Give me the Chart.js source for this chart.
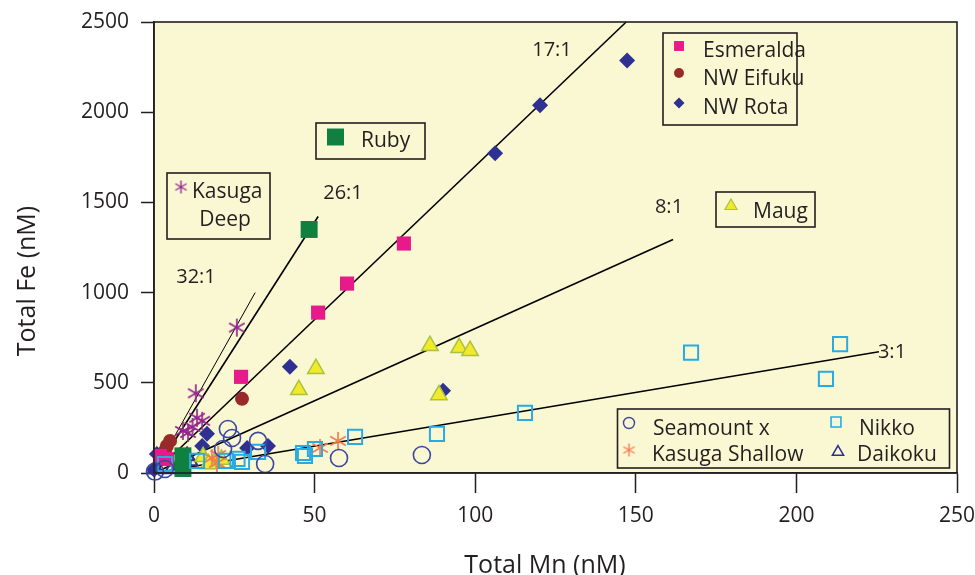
<!DOCTYPE html>
<html><head><meta charset="utf-8">
<script src="https://cdn.jsdelivr.net/npm/chart.js@4/dist/chart.umd.min.js"></script>
<style>html,body{margin:0;padding:0;background:#fff;}</style>
</head><body>
<canvas id="c" width="975" height="575"></canvas>
<script>
// ---------- DATA ----------
const xTicks = [0, 50, 100, 150, 200, 250];
const yTicks = [0, 500, 1000, 1500, 2000, 2500];

const esmeraldaMn = [77.8, 60.1, 51.1, 27.1, 1.9, 4.0];
const esmeraldaFe = [1272, 1050, 889, 533, 94, 78];

const nwEifukuMn = [27.4, 5.0, 4.0, 3.4];
const nwEifukuFe = [411, 178, 150, 122];

const nwRotaMn = [147.3, 120.2, 106.2, 42.3, 90.0, 16.5, 15.0, 29.0, 35.5, 0.9, 0.0];
const nwRotaFe = [2286, 2039, 1772, 589, 456, 217, 150, 139, 150, 106, 20];

const rubyMn = [48.3, 9.0, 9.0];
const rubyFe = [1350, 95, 25];

const kasugaDeepMn = [25.8, 13.0, 13.4, 15.0, 9.0, 10.6, 12.0];
const kasugaDeepFe = [806, 442, 306, 289, 233, 222, 255];

const maugMn = [85.9, 95.0, 98.4, 88.7, 50.4, 45.1, 15.3, 19.0, 21.0, 17.0];
const maugFe = [706, 694, 678, 433, 578, 461, 90, 62, 75, 50];

const seamountMn = [83.4, 57.6, 34.6, 32.4, 23.0, 24.3, 21.5, 3.4, 0.3];
const seamountFe = [100, 83, 50, 178, 244, 194, 133, 22, 8];

const kasugaShallowMn = [57.3, 51.7, 20.0, 18.0, 19.6];
const kasugaShallowFe = [178, 139, 100, 83, 56];

const nikkoMn = [213.6, 209.2, 167.2, 115.5, 88.1, 62.6, 50.1, 46.4, 47.0, 32.4, 27.4, 22.4, 13.4, 26.0, 3.4];
const nikkoFe = [714, 522, 667, 333, 217, 200, 133, 111, 94, 117, 62, 67, 67, 78, 50];

const daikokuMn = [0.3, 10.3, 11.2, 8.0, 5.6];
const daikokuFe = [22, 94, 67, 50, 22];

const ratioLabels = ['32:1', '26:1', '17:1', '8:1', '3:1'];
const ratioEndMn = [31.5, 51.1, 147.0, 161.6, 225.7];
const ratioEndFe = [1000, 1422, 2500, 1294, 672];

// ---------- HELPERS ----------
const INK = '#231F20';
const BG = '#FAF8D2';
const FONT = "'Open Sans', 'Noto Sans', sans-serif";
function pts(xs, ys) { return xs.map((x, i) => ({x: x, y: ys[i]})); }
function asterisk(color, size, lw) {
  const c = document.createElement('canvas');
  c.width = size; c.height = size;
  const g = c.getContext('2d');
  g.strokeStyle = color; g.lineWidth = lw; g.lineCap = 'butt';
  const r = size / 2 - 1, cx = size / 2, cy = size / 2;
  [90, 30, 150].forEach(a => {
    const t = a * Math.PI / 180;
    g.beginPath();
    g.moveTo(cx - r * Math.cos(t), cy - r * Math.sin(t));
    g.lineTo(cx + r * Math.cos(t), cy + r * Math.sin(t));
    g.stroke();
  });
  return c;
}
const C = {
  esm: '#E8198B', eif: '#982A2C', rota: '#2E3192', ruby: '#0F8040',
  kdeep: '#93278F', maug: '#F2E92A', maugEdge: '#A9C23F',
  sea: '#3A46A0', kshal: '#F47B50', nikko: '#29ABE2', dai: '#2E3192'
};
const kDeepImg = asterisk(C.kdeep, 20, 1.7);
const kShalImg = asterisk(C.kshal, 20, 1.7);
const kDeepLeg = asterisk(C.kdeep, 15, 1.4);
const kShalLeg = asterisk(C.kshal, 15, 1.4);

const pointSets = [
  {label: 'Seamount x', data: pts(seamountMn, seamountFe), pointStyle: 'circle', pointRadius: 8.5, backgroundColor: 'rgba(0,0,0,0)', borderColor: C.sea, pointBorderWidth: 1.6},
  {label: 'Nikko', data: pts(nikkoMn, nikkoFe), pointStyle: 'rect', pointRadius: 10, backgroundColor: 'rgba(0,0,0,0)', borderColor: C.nikko, pointBorderWidth: 2},
  {label: 'Kasuga Shallow', data: pts(kasugaShallowMn, kasugaShallowFe), pointStyle: kShalImg, pointRadius: 10},
  {label: 'Maug', data: pts(maugMn, maugFe), pointStyle: 'triangle', pointRadius: 9.5, backgroundColor: C.maug, borderColor: C.maugEdge, pointBorderWidth: 1.5},
  {label: 'Kasuga Deep', data: pts(kasugaDeepMn, kasugaDeepFe), pointStyle: kDeepImg, pointRadius: 10},
  {label: 'Ruby', data: pts(rubyMn, rubyFe), pointStyle: 'rect', pointRadius: 12, backgroundColor: C.ruby, borderColor: C.ruby, pointBorderWidth: 0},
  {label: 'Esmeralda', data: pts(esmeraldaMn, esmeraldaFe), pointStyle: 'rect', pointRadius: 10, backgroundColor: C.esm, borderColor: C.esm, pointBorderWidth: 0},
  {label: 'NW Eifuku', data: pts(nwEifukuMn, nwEifukuFe), pointStyle: 'circle', pointRadius: 7, backgroundColor: C.eif, borderColor: C.eif, pointBorderWidth: 0},
  {label: 'NW Rota', data: pts(nwRotaMn, nwRotaFe), pointStyle: 'rectRot', pointRadius: 8, backgroundColor: C.rota, borderColor: C.rota, pointBorderWidth: 0},
  {label: 'Daikoku', data: pts(daikokuMn, daikokuFe), pointStyle: 'triangle', pointRadius: 8.5, backgroundColor: 'rgba(0,0,0,0)', borderColor: C.dai, pointBorderWidth: 2}
].map(d => Object.assign({clip: false, order: 1, pointHoverRadius: d.pointRadius}, d));

const lineSets = ratioLabels.map((lab, i) => ({
  label: lab, data: [{x: 0, y: 0}, {x: ratioEndMn[i], y: ratioEndFe[i]}],
  showLine: true, borderColor: '#000', borderWidth: i === 0 ? 1 : 1.6,
  pointRadius: 0, order: 5, clip: false
}));

// ---------- DECORATION PLUGIN ----------
const deco = {
  id: 'deco',
  beforeDraw(chart) {
    const {ctx, chartArea: a} = chart;
    ctx.save();
    ctx.fillStyle = BG;
    ctx.fillRect(a.left, a.top, a.right - a.left, a.bottom - a.top);
    ctx.restore();
  },
  afterDraw(chart) {
    const {ctx, chartArea: a} = chart;
    const dp = Chart.helpers.drawPoint;
    ctx.save();
    // frame
    ctx.strokeStyle = INK; ctx.lineWidth = 1.6;
    ctx.strokeRect(a.left, a.top, a.right - a.left, a.bottom - a.top);

    function box(x, y, w, h) {
      ctx.strokeStyle = INK; ctx.lineWidth = 1.6; ctx.strokeRect(x, y, w, h);
    }
    function text(t, x, y, size, align) {
      ctx.fillStyle = INK; ctx.font = size + 'px ' + FONT;
      ctx.textAlign = align || 'left'; ctx.textBaseline = 'middle';
      ctx.fillText(t, x, y);
    }
    function mark(style, r, fill, stroke, bw, x, y) {
      ctx.fillStyle = fill; ctx.strokeStyle = stroke; ctx.lineWidth = bw;
      dp(ctx, {pointStyle: style, radius: r, rotation: 0, borderWidth: bw}, x, y);
    }
    // ratio labels
    const rl = [[196, 277], [343, 193], [552, 50], [669, 207], [892, 352]];
    ratioLabels.forEach((t, i) => text(t, rl[i][0], rl[i][1], 20, 'center'));

    // Esmeralda / NW Eifuku / NW Rota
    box(663, 33, 134, 92);
    mark('rect', 7, C.esm, C.esm, 0, 679, 46);
    text('Esmeralda', 703, 51, 21);
    mark('circle', 5, C.eif, C.eif, 0, 679, 73);
    text('NW Eifuku', 703, 79, 21);
    mark('rectRot', 5.5, C.rota, C.rota, 0, 679, 103);
    text('NW Rota', 703, 108, 21);

    // Ruby
    box(316, 123, 109, 36);
    mark('rect', 12, C.ruby, C.ruby, 0, 335.5, 137);
    text('Ruby', 361, 141, 21);

    // Kasuga Deep
    box(167, 173, 103, 66);
    ctx.drawImage(kDeepLeg, 181 - 7.5, 187 - 7.5);
    text('Kasuga', 192, 192, 21);
    text('Deep', 225, 220, 21, 'center');

    // Maug
    box(716, 192, 99, 35);
    mark('triangle', 7, C.maug, C.maugEdge, 1.2, 731, 206);
    text('Maug', 753, 212, 21);

    // bottom legend
    box(617.5, 409, 332, 59);
    mark('circle', 5.5, 'rgba(0,0,0,0)', C.sea, 1.4, 629, 423);
    text('Seamount x', 653, 429, 21);
    ctx.drawImage(kShalLeg, 629 - 7.5, 450 - 7.5);
    text('Kasuga Shallow', 652, 455, 21);
    mark('rect', 7, 'rgba(0,0,0,0)', C.nikko, 1.6, 836, 422);
    text('Nikko', 859, 429, 21);
    mark('triangle', 6.5, 'rgba(0,0,0,0)', C.dai, 1.5, 838, 452);
    text('Daikoku', 857, 455, 21);

    // axis titles
    ctx.fillStyle = INK; ctx.font = '25px ' + FONT;
    ctx.textAlign = 'center'; ctx.textBaseline = 'alphabetic';
    ctx.fillText('Total Mn (nM)', 545, 573);
    ctx.translate(35, 281); ctx.rotate(-Math.PI / 2);
    ctx.fillText('Total Fe (nM)', 0, 0);
    ctx.restore();
  }
};

Chart.defaults.font.family = FONT;
Chart.defaults.color = INK;

new Chart(document.getElementById('c'), {
  type: 'scatter',
  data: {datasets: lineSets.concat(pointSets)},
  options: {
    responsive: false, animation: false, devicePixelRatio: 1,
    layout: {padding: {top: 22, right: 18, left: 0, bottom: 0}},
    plugins: {legend: {display: false}, tooltip: {enabled: false}},
    scales: {
      x: {
        type: 'linear', min: 0, max: 250,
        afterBuildTicks: s => { s.ticks = xTicks.map(v => ({value: v})); },
        afterFit: s => { s.height = 102; s.paddingLeft = 0; s.paddingRight = 0; },
        grid: {drawOnChartArea: false, drawTicks: true, tickLength: 20, tickColor: INK, tickWidth: 1.5},
        border: {display: true, color: INK, width: 1.6},
        ticks: {font: {size: 21}, color: INK, padding: 10, maxRotation: 0, callback: v => String(v)}
      },
      y: {
        type: 'linear', min: 0, max: 2500,
        afterBuildTicks: s => { s.ticks = yTicks.map(v => ({value: v})); },
        afterFit: s => { s.width = 154; s.paddingTop = 0; s.paddingBottom = 0; },
        grid: {drawOnChartArea: false, drawTicks: true, tickLength: 13, tickColor: INK, tickWidth: 1.5},
        border: {display: true, color: INK, width: 1.6},
        ticks: {font: {size: 21}, color: INK, padding: 12, callback: v => String(v)}
      }
    }
  },
  plugins: [deco]
});
</script>
</body></html>
